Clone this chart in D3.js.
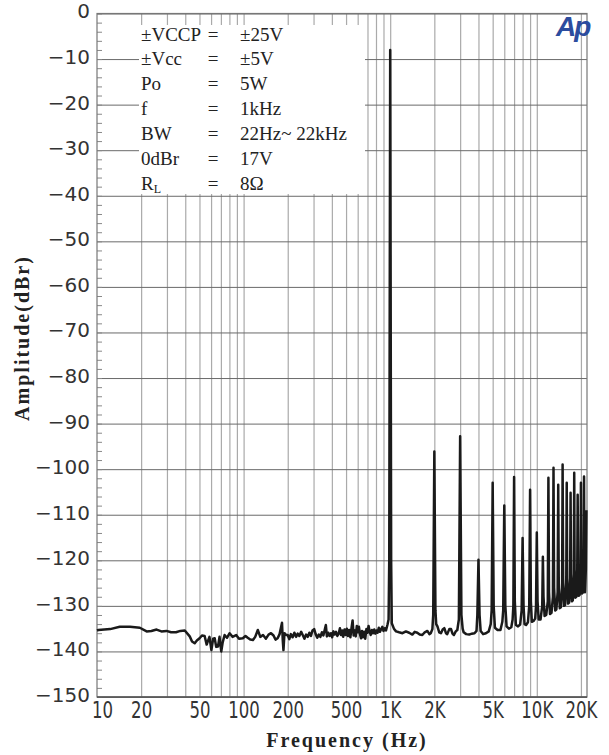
<!DOCTYPE html>
<html>
<head>
<meta charset="utf-8">
<script src="https://cdn.jsdelivr.net/npm/d3@7"></script>
<style>
  body { margin: 0; background: #fff; }
  svg { display: block; }
</style>
</head>
<body>
<svg id="chart"></svg>
<script>
// spectrum trace (Hz, dBr), in three pieces
const lowHz = [
  10, 10.2, 12.3, 14.3, 16.8, 19.6, 21.8, 23.5, 25.5, 27.5, 29.8, 32, 34.6, 37, 39.7,
  42.9, 44.5, 46.4, 48, 50.1, 52, 54.2, 56, 57, 58.5, 60.3, 62, 63.5, 65, 66.9, 68.5,
  70.4, 72, 74.2, 77, 80.3, 84, 89, 93, 98.8, 103, 106.7, 111, 115.8, 120, 125, 130,
  135.7, 142, 148, 153.8, 160, 165, 170.6, 176, 182.8, 185, 187, 190, 195
];
const lowDb = [
  -135.4, -135.3, -135.1, -134.6, -134.6, -134.8, -135.6, -135.5, -135.2, -135.6, -135.5, -135.8, -135.8, -135.5, -135.4,
  -136.7, -137.8, -138.2, -137.6, -137.1, -136.5, -136.6, -138.5, -137.8, -136.8, -139.7, -137.2, -137.1, -139, -138.9, -136.8,
  -140, -138, -136.4, -137, -136, -136.8, -136.4, -137.2, -137.1, -136.6, -137, -137.4, -137.5, -136.8, -135.3, -136.8,
  -136.4, -137.2, -136.3, -136, -136.5, -137.4, -137.1, -136.2, -133.7, -137.5, -139.7, -136, -136.4
];
const midHz = [
  199.9, 205, 210, 216, 222, 228, 234, 240, 247, 254, 260, 267, 274, 281, 288, 295, 303,
  310, 318, 326, 334, 342, 350, 358, 364, 370, 378, 386, 394, 402, 410, 418, 427, 436,
  445, 454, 462, 470, 478, 488, 497, 506, 515, 525, 535, 545, 554, 563, 572, 582, 592,
  602, 612, 622, 632, 642, 652, 664, 676, 688, 700, 712, 724, 736, 750, 764, 778, 792,
  806, 820, 836, 852, 868, 884, 900, 918, 936, 957, 975
];
const midDb = [
  -136.4, -137.3, -136.2, -136.9, -135.9, -136.8, -136.1, -136.6, -135.7, -136.5, -137.2, -136.3, -136.8, -135.9, -136.6, -135.4, -135.1,
  -136.2, -137, -136.3, -136.8, -135.8, -136.5, -135.2, -134.2, -136.7, -135.9, -136.6, -136, -136.9, -135.6, -136.3, -135.7, -136.6,
  -136.1, -134.9, -136.4, -135.4, -136.8, -135.2, -136.4, -135, -136.6, -135.3, -136.9, -134.8, -133.2, -136.5, -135.4, -136.7, -134.4,
  -135.8, -134.6, -136.2, -137.1, -135.5, -136.9, -135.7, -137.2, -135.1, -135.9, -134.4, -135.6, -136.4, -135.3, -136, -135.2, -136.1,
  -135.4, -135.9, -134.8, -135.7, -135.1, -134.6, -135.5, -134.9, -135.4, -134.2, -133
];
const highHz = [
  985, 1000, 1015, 1025, 1060, 1096, 1150, 1212,
  1280, 1346, 1416, 1470, 1530, 1590, 1656, 1720, 1793, 1850, 1890, 1940, 1965, 2000,
  2035, 2060, 2100, 2160, 2220, 2280, 2340, 2400, 2450, 2530, 2600, 2660, 2720, 2800,
  2870, 2940, 3000, 3060, 3120, 3170, 3300, 3460, 3600, 3760, 3880, 3930, 4000, 4070,
  4140, 4300, 4500, 4700, 4850, 4920, 5000, 5080, 5180, 5400, 5650, 5820, 5900, 6000,
  6100, 6220, 6450, 6700, 6840, 6920, 7000, 7080, 7200, 7450, 7700, 7880, 8000, 8120,
  8250, 8450, 8700, 8880, 9000, 9110, 9250, 9500, 9750, 9880, 10000, 10120, 10300,
  10600, 10890, 11000, 11110, 11300, 11600, 11880, 12000, 12120, 12300, 12600, 12880,
  13000, 13120, 13350, 13600, 13870, 14000, 14120, 14350, 14600, 14880, 15000, 15120,
  15350, 15600, 15880, 16000, 16120, 16350, 16600, 16880, 17000, 17110, 17350, 17600,
  17880, 18000, 18110, 18330, 18600, 18880, 19000, 19110, 19300, 19600, 19880, 20000,
  20100, 20300, 20600, 20880, 21000, 21100, 21300, 21600, 21800
];
const highDb = [
  -120, -8, -120, -133.8, -135, -135.6, -135.8, -136,
  -135.6, -135.9, -136.3, -135.7, -135.9, -136.3, -136.4, -135.8, -135.5, -136.2, -136, -135.1, -132, -96.1,
  -131, -134, -134.5, -135.8, -136, -135.2, -134.9, -136, -136.2, -135.1, -135.1, -136.1, -136.4, -135.6,
  -135.3, -133, -92.8, -132, -135, -135.8, -136.2, -136.3, -136.1, -136, -135.5, -132, -119.9, -132,
  -135.5, -136.2, -136, -135.6, -134, -131, -103, -130, -134.8, -135.3, -135.3, -133.5, -131, -108,
  -130, -134.5, -135, -134.7, -133, -130, -101.7, -129, -134.2, -134.5, -134.1, -131, -115.1, -130,
  -134, -134.2, -133.6, -130, -104.5, -129, -133.5, -133.3, -132.8, -130, -113.9, -129, -133,
  -133, -130, -119.2, -128, -132.2, -132, -129, -101.9, -127, -131.8, -131.5, -128,
  -99.7, -126, -131, -130.8, -127, -103.4, -125, -130.5, -130.3, -126, -99, -124,
  -130, -129.8, -125, -103, -124, -129.5, -129.3, -124, -105.2, -123, -129, -128.8,
  -123, -100.8, -122, -128.2, -128, -122, -105.6, -121, -127.8, -127.6, -121, -103,
  -120, -127.3, -127.1, -120, -101.6, -118, -127, -122, -109
];

const yMajorTicks = [0, -10, -20, -30, -40, -50, -60, -70, -80, -90, -100, -110, -120, -130, -140, -150];
const yMinorTicks = d3.range(0, -151, -2);
const xGridHz = [20, 30, 40, 50, 60, 70, 80, 90, 100, 200, 300, 400, 500, 600, 700, 800, 900,
  1000, 2000, 3000, 4000, 5000, 6000, 7000, 8000, 9000, 10000, 20000];
const xTickHz = [10, 20, 50, 100, 200, 500, 1000, 2000, 5000, 10000, 20000];
const xTickLabels = ['10', '20', '50', '100', '200', '500', '1K', '2K', '5K', '10K', '20K'];

const legendNames = ['±VCCP', '±Vcc', 'Po', 'f', 'BW', '0dBr', 'R'];
const legendValues = ['±25V', '±5V', '5W', '1kHz', '22Hz~ 22kHz', '17V', '8Ω'];

[[lowHz, lowDb], [midHz, midDb], [highHz, highDb]].forEach(([a, b], k) => {
  if (a.length !== b.length) throw new Error(`piece ${k}: ${a.length} vs ${b.length}`);
});

const W = 609, H = 755;
const plotL = 97, plotR = 587, plotT = 13.5, plotB = 697;

const svg = d3.select('#chart').attr('width', W).attr('height', H);

const x = d3.scaleLog().domain([10, 22000]).range([plotL, plotR]);
const y = d3.scaleLinear().domain([-150, 0]).range([plotB, plotT]);

// vertical grid
svg.append('g')
  .attr('transform', `translate(0,${plotB})`)
  .call(d3.axisBottom(x).tickValues(xGridHz).tickSize(-(plotB - plotT)).tickFormat(''))
  .call((g) => g.select('.domain').remove())
  .call((g) => g.selectAll('line').attr('stroke', '#aaa').attr('stroke-width', 1.2));

// horizontal grid
svg.append('g')
  .attr('transform', `translate(${plotL},0)`)
  .call(d3.axisLeft(y).tickValues(yMajorTicks).tickSize(-(plotR - plotL)).tickFormat(''))
  .call((g) => g.select('.domain').remove())
  .call((g) => g.selectAll('line').attr('stroke', '#6a6a6a').attr('stroke-width', 1));

// legend box hides grid
svg.append('rect')
  .attr('x', 139).attr('y', 25).attr('width', 226).attr('height', 169)
  .attr('fill', '#fff');

// minor ticks on left axis
svg.append('g')
  .attr('transform', `translate(${plotL},0)`)
  .call(d3.axisLeft(y).tickValues(yMinorTicks).tickSize(-5).tickFormat(''))
  .call((g) => g.select('.domain').remove())
  .call((g) => g.selectAll('line').attr('stroke', '#888'));

// frame
svg.append('rect')
  .attr('x', plotL).attr('y', plotT)
  .attr('width', plotR - plotL).attr('height', plotB - plotT)
  .attr('fill', 'none').attr('stroke', '#777').attr('stroke-width', 1.2);
svg.append('line')
  .attr('x1', plotL).attr('x2', plotR).attr('y1', plotB).attr('y2', plotB)
  .attr('stroke', '#555').attr('stroke-width', 1.5);

// y tick labels
svg.append('g')
  .attr('transform', `translate(${plotL},0)`)
  .call(d3.axisLeft(y).tickValues(yMajorTicks).tickSize(0).tickPadding(7)
    .tickFormat((d) => (d < 0 ? '\u2212' + Math.abs(d) : d)))
  .call((g) => g.select('.domain').remove())
  .call((g) => g.selectAll('text')
    .attr('font-family', 'DejaVu Sans, sans-serif')
    .attr('font-size', 20)
    .attr('fill', '#333')
    .attr('dy', '0.22em'));

// x tick labels
svg.append('g')
  .attr('transform', `translate(0,${plotB})`)
  .call(d3.axisBottom(x).tickValues(xTickHz).tickSize(0).tickPadding(0)
    .tickFormat((d, i) => xTickLabels[i]))
  .call((g) => g.select('.domain').remove())
  .call((g) => g.selectAll('.tick text')
    .attr('font-family', 'DejaVu Sans, sans-serif')
    .attr('font-size', 23)
    .attr('fill', '#333')
    .attr('dy', null)
    .attr('y', 21)
    .attr('transform', (d, i) => `translate(${i === 0 ? 5 : 0},0) scale(0.72,1)`));

// trace
const traceHz = lowHz.concat(midHz, highHz);
const traceDb = lowDb.concat(midDb, highDb);
const pts = traceHz.map((f, i) => [f, traceDb[i]]);
svg.append('path')
  .datum(pts)
  .attr('fill', 'none')
  .attr('stroke', '#1a1a1a')
  .attr('stroke-width', 2.5)
  .attr('stroke-linejoin', 'round')
  .attr('d', d3.line().x((d) => x(d[0])).y((d) => y(d[1])));

// legend text
const lg = svg.append('g')
  .attr('font-family', 'Liberation Serif, Times New Roman, serif')
  .attr('font-size', 19)
  .attr('fill', '#222');
legendNames.forEach((name, i) => {
  const by = 40.5 + i * 24.9;
  const t = lg.append('text').attr('x', 141).attr('y', by).text(name);
  if (name === 'R') t.append('tspan').attr('font-size', 12).attr('dy', 3).text('L');
  lg.append('text').attr('x', 213).attr('y', by).attr('text-anchor', 'middle').text('=');
  lg.append('text').attr('x', 240).attr('y', by).text(legendValues[i]);
});

// Ap logo
svg.append('text')
  .attr('x', 556).attr('y', 36)
  .attr('font-family', 'Liberation Sans, Arial, sans-serif')
  .attr('font-size', 28)
  .attr('font-weight', 'bold')
  .attr('font-style', 'italic')
  .attr('letter-spacing', -2)
  .attr('fill', '#2c4c9e')
  .text('Ap');

// axis titles
svg.append('text')
  .attr('x', 347).attr('y', 747)
  .attr('text-anchor', 'middle')
  .attr('font-family', 'Liberation Serif, serif')
  .attr('font-weight', 'bold')
  .attr('font-size', 20)
  .attr('letter-spacing', 2)
  .attr('fill', '#222')
  .text('Frequency (Hz)');

svg.append('text')
  .attr('transform', 'translate(29,338) rotate(-90)')
  .attr('text-anchor', 'middle')
  .attr('font-family', 'Liberation Serif, serif')
  .attr('font-weight', 'bold')
  .attr('font-size', 20)
  .attr('letter-spacing', 2)
  .attr('fill', '#222')
  .text('Amplitude(dBr)');
</script>
</body>
</html>
